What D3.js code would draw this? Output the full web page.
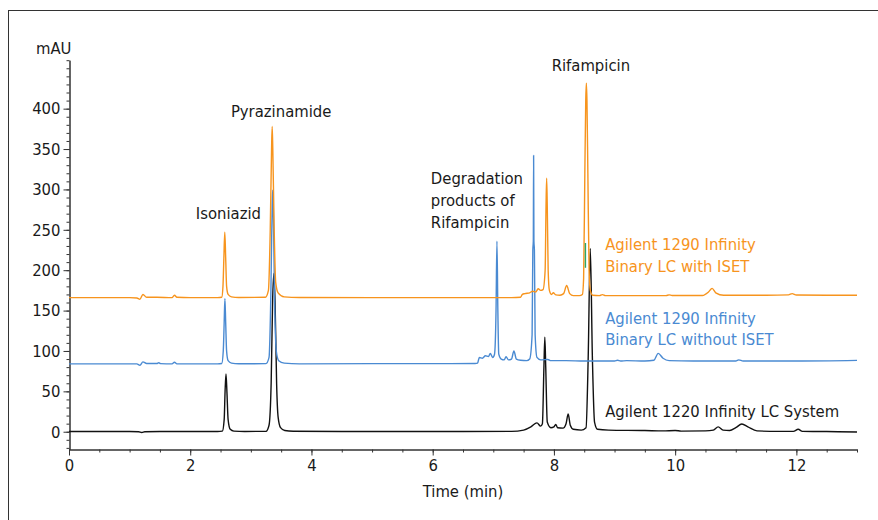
<!DOCTYPE html>
<html>
<head>
<meta charset="utf-8">
<script src="https://cdn.jsdelivr.net/npm/d3@7"></script>
<style>
  body { margin: 0; background: #fff; }
  svg text { font-family: "DejaVu Sans Condensed", "DejaVu Sans", sans-serif; font-stretch: condensed; }
</style>
</head>
<body>
<svg id="chart" width="878" height="520"></svg>
<script>
// [time (min), absorbance (mAU)]
const withIset = [
  [0,166],[0.5,166],[1.0,166],[1.12,165.5],[1.17,164],[1.22,170],[1.28,166.5],[1.45,166.5],[1.7,166],[1.74,169],[1.78,166.5],[2.0,166],[2.45,166],
  [2.52,166.5],[2.54,180],[2.555,215],[2.57,247],[2.585,215],[2.6,180],[2.625,170],[2.68,167],[2.8,166.2],
  [3.24,166.5],[3.29,175],[3.32,250],[3.342,350],[3.352,378],[3.362,350],[3.385,250],[3.41,185],[3.45,172],[3.55,167],[3.8,166.2],
  [5,166],[6.5,166],[7.3,166],[7.45,166.5],[7.48,170],[7.52,171],[7.6,172],[7.65,174],[7.7,173],[7.74,177],[7.78,175],[7.82,176],
  [7.855,200],[7.87,280],[7.88,314],[7.89,280],[7.905,200],[7.925,175],[7.96,170],[7.99,172],[8.03,169.5],[8.1,169],[8.16,171],[8.21,181],[8.26,171],[8.32,168.5],[8.42,168.5],[8.47,170],
  [8.49,190],[8.51,320],[8.525,410],[8.535,431.5],[8.545,410],[8.56,320],[8.58,200],[8.6,175],[8.64,169],[8.75,168.5],[8.8,169.8],[8.85,168.5],
  [9.2,168.5],[9.85,168.5],[9.9,169.5],[9.95,168.7],[10.45,168.7],[10.55,173],[10.61,177.5],[10.67,172],[10.8,169],[11.5,169],[11.87,169.5],[11.93,171],[12,169.3],[12.5,169],[13,169]
];

const withoutIset = [
  [0,84],[0.5,84],[1.0,84],[1.12,84],[1.17,82.3],[1.22,86.5],[1.28,84.5],[1.45,84.5],[1.48,85.5],[1.51,84.3],[1.7,84],[1.74,86],[1.78,84],[2.0,84],[2.45,84],
  [2.52,84.5],[2.545,100],[2.56,135],[2.572,165],[2.585,135],[2.6,100],[2.625,88],[2.68,85],[2.8,84.2],
  [3.25,84.3],[3.3,92],[3.33,170],[3.352,280],[3.36,299],[3.37,280],[3.39,170],[3.42,100],[3.46,88],[3.55,85],[3.8,84],
  [5,84.3],[6.0,84.3],[6.7,84.5],[6.74,85],[6.77,92],[6.82,91],[6.87,94],[6.92,93],[6.95,97],[6.99,92],[7.02,96],
  [7.045,150],[7.06,236],[7.075,150],[7.09,96],[7.13,90],[7.18,89],[7.21,93],[7.25,89],[7.3,90],[7.34,100],[7.38,90],[7.45,88.5],[7.55,88],[7.6,90],
  [7.64,120],[7.652,225],[7.66,236],[7.665,342],[7.67,236],[7.678,225],[7.69,120],[7.72,92],[7.78,89],[7.9,89.5],[7.95,88],
  [8.2,88],[8.5,87.5],[9.0,87.5],[9.05,88.5],[9.1,87.5],[9.2,88],[9.5,87.5],[9.65,88.5],[9.72,97],[9.8,91],[9.9,88],[10.3,87.5],[11.0,87.5],[11.05,89],[11.12,87.5],[12,87.5],[13,88.3]
];

const system1220 = [
  [0,0.3],[0.5,0.3],[1.0,0.2],[1.15,0],[1.2,-1],[1.25,0],[1.5,0.2],[2.0,0.2],[2.45,0.3],
  [2.53,0.8],[2.56,15],[2.575,50],[2.59,71.5],[2.605,50],[2.625,15],[2.66,3],[2.72,0.8],[2.9,0.3],
  [3.25,0.5],[3.3,8],[3.335,60],[3.36,165],[3.38,196],[3.4,160],[3.425,60],[3.45,18],[3.49,5],[3.56,1.5],[3.7,0.6],
  [4.5,0.3],[5.5,0.3],[6.5,0.3],[7.3,0.5],[7.5,2],[7.62,6],[7.72,11],[7.78,7],[7.81,10],
  [7.835,80],[7.85,117],[7.865,80],[7.89,12],[7.95,5],[8.0,6],[8.03,9],[8.06,5],[8.15,4.5],[8.2,10],[8.235,22],[8.27,8],[8.32,3],[8.45,2],
  [8.53,5],[8.565,90],[8.6,227],[8.635,90],[8.67,12],[8.72,3],[8.9,2],[9.5,1.5],[9.8,1],[10.0,1.5],[10.1,0.8],[10.5,1],
  [10.63,2],[10.71,6],[10.79,2],[10.9,1.5],[11.0,5],[11.1,9.5],[11.2,6],[11.35,1],[11.7,0.5],[11.95,0.5],[12.03,3],[12.1,0.5],[12.5,0.2],[13,-0.3]
];

// short green stroke visible beside the orange Rifampicin peak
const greenMark = [[8.52,203],[8.52,233.7]];

const majorY = [0, 50, 100, 150, 200, 250, 300, 350, 400];
const minorY = d3.range(-20, 461, 10);
const majorX = [0, 2, 4, 6, 8, 10, 12];
const minorX = d3.range(0, 13.01, 0.5);

const peakLabels = [
  { lines: ["Isoniazid"], t: 2.63, v: 263, anchor: "middle" },
  { lines: ["Pyrazinamide"], t: 3.5, v: 390, anchor: "middle" },
  { lines: ["Degradation", "products of", "Rifampicin"], t: 5.97, v: 307, anchor: "start" },
  { lines: ["Rifampicin"], t: 8.61, v: 447, anchor: "middle" }
];

const seriesLabels = [
  { lines: ["Agilent 1290 Infinity", "Binary LC with ISET"], t: 8.845, v: 225, color: "#F7941D" },
  { lines: ["Agilent 1290 Infinity", "Binary LC without ISET"], t: 8.845, v: 134, color: "#4A8AD2" },
  { lines: ["Agilent 1220 Infinity LC System"], t: 8.845, v: 18, color: "#1a1a1a" }
];

const svg = d3.select("#chart");

// outer frame
svg.append("rect")
  .attr("x", 8.5).attr("y", 10.5)
  .attr("width", 900).attr("height", 600)
  .attr("fill", "none").attr("stroke", "#333").attr("stroke-width", 1);

const x = d3.scaleLinear().domain([0, 13]).range([69, 857]);
const y = d3.scaleLinear().domain([-22, 460]).range([449.5, 60.2]);

const line = d3.line()
  .x((d) => x(d[0]))
  .y((d) => y(d[1]))
  .curve(d3.curveMonotoneX);

// axes
const yMinor = d3.axisLeft(y).tickValues(minorY).tickSize(3).tickSizeOuter(0).tickFormat("");
const yMajor = d3.axisLeft(y).tickValues(majorY).tickSize(6).tickSizeOuter(0).tickPadding(3);
const xMinor = d3.axisBottom(x).tickValues(minorX).tickSize(3).tickSizeOuter(0).tickFormat("");
const xMajor = d3.axisBottom(x).tickValues(majorX).tickSize(6).tickSizeOuter(0).tickPadding(4);

svg.append("g").attr("transform", "translate(69.5,0)").call(yMinor);
svg.append("g").attr("transform", "translate(69.5,0)").call(yMajor);
svg.append("g").attr("transform", `translate(0,${y(-22)})`).call(xMinor);
svg.append("g").attr("transform", `translate(0,${y(-22)})`).call(xMajor);

svg.selectAll(".domain, .tick line").attr("stroke", "#333");
svg.selectAll(".tick text").attr("font-size", 16.5).attr("fill", "#1a1a1a")
  .style("font-family", '"DejaVu Sans Condensed", "DejaVu Sans", sans-serif');

svg.append("text").attr("x", 36).attr("y", 54)
  .attr("font-size", 16.5).attr("fill", "#1a1a1a").text("mAU");

svg.append("text").attr("x", x(6.5)).attr("y", 497)
  .attr("text-anchor", "middle").attr("font-size", 16.5).attr("fill", "#1a1a1a").text("Time (min)");

// traces, drawn bottom to top
const traces = [
  { data: system1220, color: "#111111" },
  { data: withoutIset, color: "#4A8AD2" },
  { data: withIset, color: "#F7941D" }
];

svg.selectAll(".trace")
  .data(traces)
  .enter()
  .append("path")
  .attr("class", "trace")
  .attr("d", (d) => line(d.data))
  .attr("fill", "none")
  .attr("stroke", (d) => d.color)
  .attr("stroke-width", 1.4)
  .attr("stroke-linejoin", "round");

svg.append("path")
  .attr("d", d3.line().x((d) => x(d[0])).y((d) => y(d[1]))(greenMark))
  .attr("stroke", "#2aa86a").attr("stroke-width", 1.4);

// annotations
const addLabel = (g, d, lineGap) => {
  const t = g.append("text")
    .attr("x", x(d.t))
    .attr("y", y(d.v))
    .attr("text-anchor", d.anchor || "start")
    .attr("font-size", 16.5)
    .attr("fill", d.color || "#1a1a1a");
  d.lines.forEach((s, i) => {
    t.append("tspan").attr("x", x(d.t)).attr("dy", i === 0 ? 0 : lineGap).text(s);
  });
};

const labels = svg.append("g");
peakLabels.forEach((d) => addLabel(labels, d, 22));
seriesLabels.forEach((d) => addLabel(labels, d, 21.5));
</script>
</body>
</html>
